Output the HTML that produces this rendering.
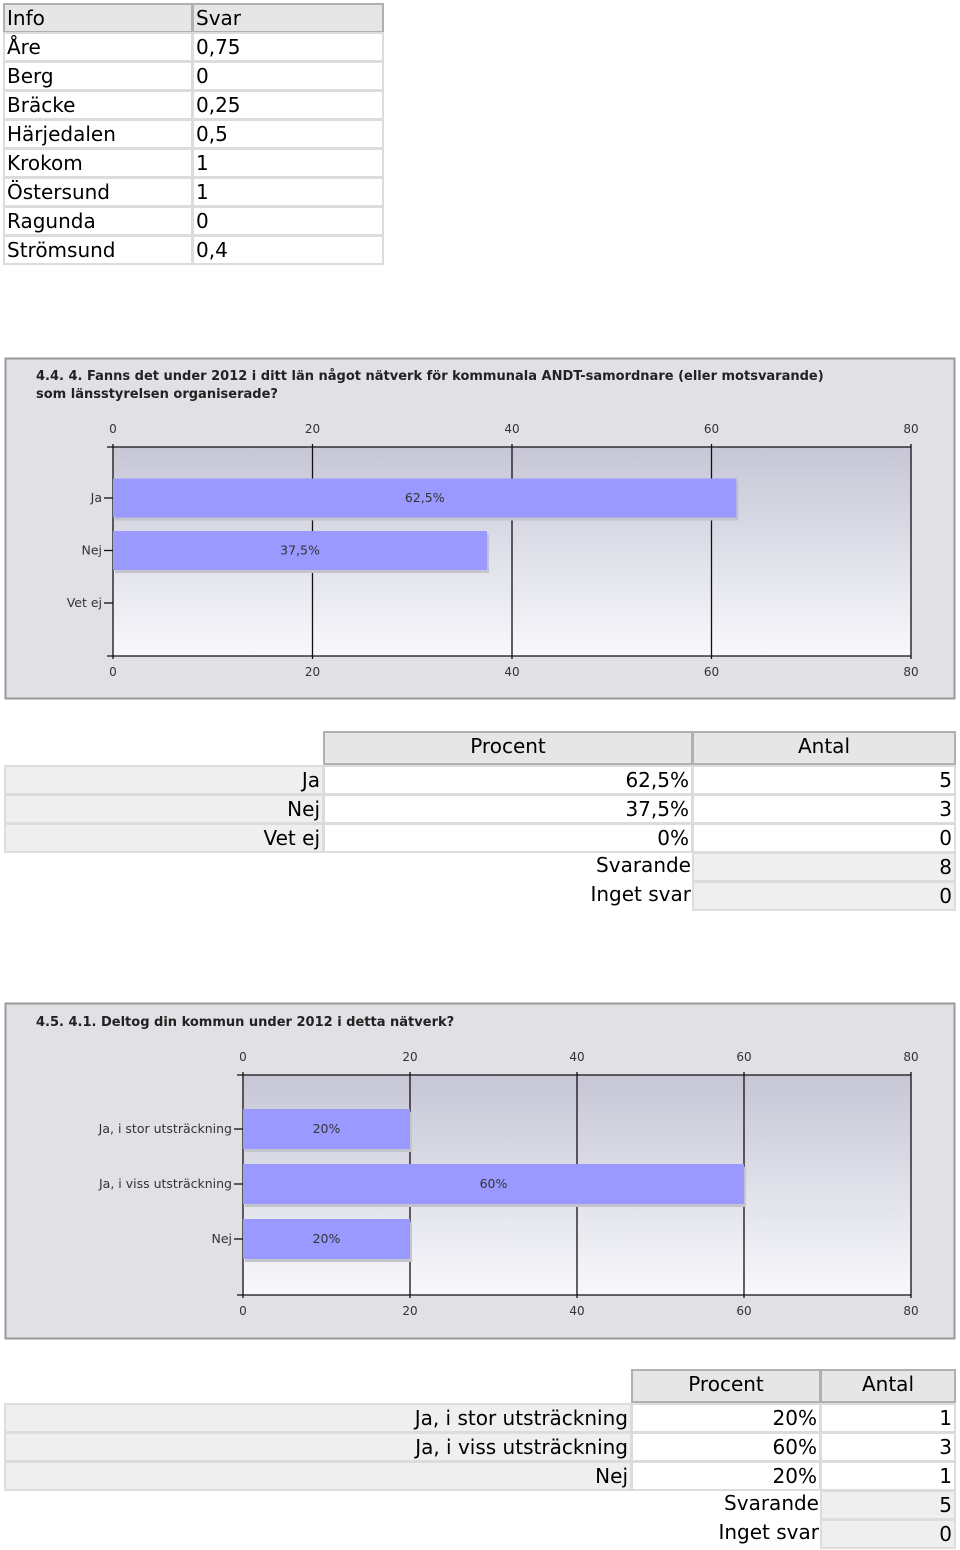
<!DOCTYPE html>
<html><head><meta charset="utf-8">
<style>
body{margin:0;width:960px;height:1550px;position:relative;background:#fff;font-family:"DejaVu Sans","Liberation Sans",sans-serif;overflow:hidden}
.c{position:absolute;box-sizing:border-box;font-size:20px;line-height:27px;color:#000;white-space:nowrap;padding:0 2px}
.h{background:#e6e6e6;border:2px solid #b0b0b0}
.w{border:2px solid #dcdcdc;background:#fff}
.g{border:2px solid #dcdcdc;background:#efefef}
.r{text-align:right}
.m{text-align:center}
svg{position:absolute;left:0}
svg text{font-family:"DejaVu Sans","Liberation Sans",sans-serif}
</style></head><body>
<div id="root"></div>
<svg id="chart1" width="960" height="345" style="top:356px"></svg>
<svg id="chart2" width="960" height="340" style="top:1001px"></svg>
<script>
// ---- Chart 1 data ----
const c1Categories=["Ja","Nej","Vet ej"];
const c1Values=[62.5,37.5,0];
const c1Labels=["62,5%","37,5%",""];
const c1Ticks=[0,20,40,60,80];
// ---- Chart 2 data ----
const c2Categories=["Ja, i stor utsträckning","Ja, i viss utsträckning","Nej"];
const c2Values=[20,60,20];
const c2Labels=["20%","60%","20%"];
const c2Ticks=[0,20,40,60,80];

const root=document.getElementById('root');
function cell(x,y,w,h,cls,text,name){
  const d=document.createElement('div');
  d.className='c '+cls;
  d.style.left=x+'px';d.style.top=y+'px';d.style.width=w+'px';d.style.height=h+'px';
  d.textContent=text;
  
  
  root.appendChild(d);
}
// Table 1
cell(3,3,190,30,'h','Info','info-header');
cell(192,3,192,30,'h','Svar','svar-header');
const t1Rows=[["Åre","0,75"],["Berg","0"],["Bräcke","0,25"],["Härjedalen","0,5"],["Krokom","1"],["Östersund","1"],["Ragunda","0"],["Strömsund","0,4"]];
t1Rows.forEach((r,i)=>{const y=32+i*29;cell(3,y,190,30,'w',r[0],'info-cell');cell(192,y,192,30,'w',r[1],'svar-cell');});

// Table 2
cell(323,731,370,34,'h m','Procent','procent-header');
cell(692,731,264,34,'h m','Antal','antal-header');
const t2Rows=[["Ja","62,5%","5"],["Nej","37,5%","3"],["Vet ej","0%","0"]];
t2Rows.forEach((r,i)=>{const y=765+i*29;cell(4,y,320,30,'g r',r[0],'answer-label');cell(323,y,370,30,'w r',r[1],'procent-cell');cell(692,y,264,30,'w r',r[2],'antal-cell');});
cell(323,852,370,30,'r','Svarande','svarande-label');cell(692,852,264,30,'g r','8','svarande-value');
cell(323,881,370,30,'r','Inget svar','inget-svar-label');cell(692,881,264,30,'g r','0','inget-svar-value');

// Table 3
cell(631,1369,190,34,'h m','Procent','procent-header');
cell(820,1369,136,34,'h m','Antal','antal-header');
const t3Rows=[["Ja, i stor utsträckning","20%","1"],["Ja, i viss utsträckning","60%","3"],["Nej","20%","1"]];
t3Rows.forEach((r,i)=>{const y=1403+i*29;cell(4,y,628,30,'g r',r[0],'answer-label');cell(631,y,190,30,'w r',r[1],'procent-cell');cell(820,y,136,30,'w r',r[2],'antal-cell');});
cell(631,1490,190,30,'r','Svarande','svarande-label');cell(820,1490,136,30,'g r','5','svarande-value');
cell(631,1519,190,30,'r','Inget svar','inget-svar-label');cell(820,1519,136,30,'g r','0','inget-svar-value');

const NS='http://www.w3.org/2000/svg';
function mk(svg,tag,attrs,text){const e=document.createElementNS(NS,tag);for(const k in attrs)e.setAttribute(k,attrs[k]);if(text!==undefined)e.textContent=text;svg.appendChild(e);return e;}

function drawChart(id,gid,cfg,cats,vals,labels,ticks){
  const svg=document.getElementById(id);
  const defs=mk(svg,'defs',{});
  const lg=document.createElementNS(NS,'linearGradient');
  lg.setAttribute('id',gid);lg.setAttribute('x1','0');lg.setAttribute('y1','0');lg.setAttribute('x2','0');lg.setAttribute('y2','1');
  defs.appendChild(lg);
  [['0','#c6c6d6'],['1','#f8f8fc']].forEach(s=>{const st=document.createElementNS(NS,'stop');st.setAttribute('offset',s[0]);st.setAttribute('stop-color',s[1]);lg.appendChild(st);});
  const p=mk(svg,'rect',{x:5.5,y:2.5,width:949,height:cfg.ph,fill:'#e1e1e5',stroke:'#999','stroke-width':2});
  
  cfg.title.forEach((t,i)=>{const e=mk(svg,'text',{x:36,y:cfg.ty+i*18,'font-size':13,'font-weight':'bold',fill:'#222'},t);
    });
  const x0=cfg.x0,x1=cfg.x1,yT=cfg.yT,yB=cfg.yB,max=ticks[ticks.length-1];
  const xs=v=>x0+(x1-x0)*v/max;
  const pa=mk(svg,'rect',{x:x0,y:yT,width:x1-x0,height:yB-yT,fill:'url(#'+gid+')'});
  
  ticks.forEach(t=>{
    const gl=mk(svg,'line',{x1:xs(t),x2:xs(t),y1:yT-3,y2:yB+3,stroke:'#111','stroke-width':1.3});
    
    const a=mk(svg,'text',{x:xs(t),y:yT-14,'text-anchor':'middle','font-size':12,fill:'#333'},String(t));
    
    const b=mk(svg,'text',{x:xs(t),y:yB+20,'text-anchor':'middle','font-size':12,fill:'#333'},String(t));
    
  });
  mk(svg,'line',{x1:x0-6,x2:x1,y1:yT,y2:yT,stroke:'#111','stroke-width':1.3});
  mk(svg,'line',{x1:x0-6,x2:x1,y1:yB,y2:yB,stroke:'#111','stroke-width':1.3});
  cats.forEach((c,i)=>{
    const cy=yT+cfg.off+i*cfg.step;
    mk(svg,'line',{x1:x0-9,x2:x0,y1:cy,y2:cy,stroke:'#111','stroke-width':1.3});
    const lab=mk(svg,'text',{x:x0-11,y:cy+4,'text-anchor':'end','font-size':12.5,fill:'#333'},c);
    
    if(vals[i]>0){
      mk(svg,'rect',{x:x0+2,y:cy-cfg.bh/2+3,width:xs(vals[i])-x0,height:cfg.bh,fill:'#c4c4cc'});
      const bar=mk(svg,'rect',{x:x0,y:cy-cfg.bh/2,width:xs(vals[i])-x0,height:cfg.bh,fill:'#9999ff'});
      
      
      const vl=mk(svg,'text',{x:(x0+xs(vals[i]))/2,y:cy+4,'text-anchor':'middle','font-size':12.5,fill:'#333'},labels[i]);
      
    }
  });
}
drawChart('chart1','g1',{ph:340,ty:24,x0:113,x1:911,yT:91,yB:300,off:51,step:52.5,bh:39,
  title:["4.4. 4. Fanns det under 2012 i ditt län något nätverk för kommunala ANDT-samordnare (eller motsvarande)","som länsstyrelsen organiserade?"]},
  c1Categories,c1Values,c1Labels,c1Ticks);
drawChart('chart2','g2',{ph:335,ty:25,x0:243,x1:911,yT:74,yB:294,off:54,step:55,bh:40,
  title:["4.5. 4.1. Deltog din kommun under 2012 i detta nätverk?"]},
  c2Categories,c2Values,c2Labels,c2Ticks);
</script>
</body></html>
